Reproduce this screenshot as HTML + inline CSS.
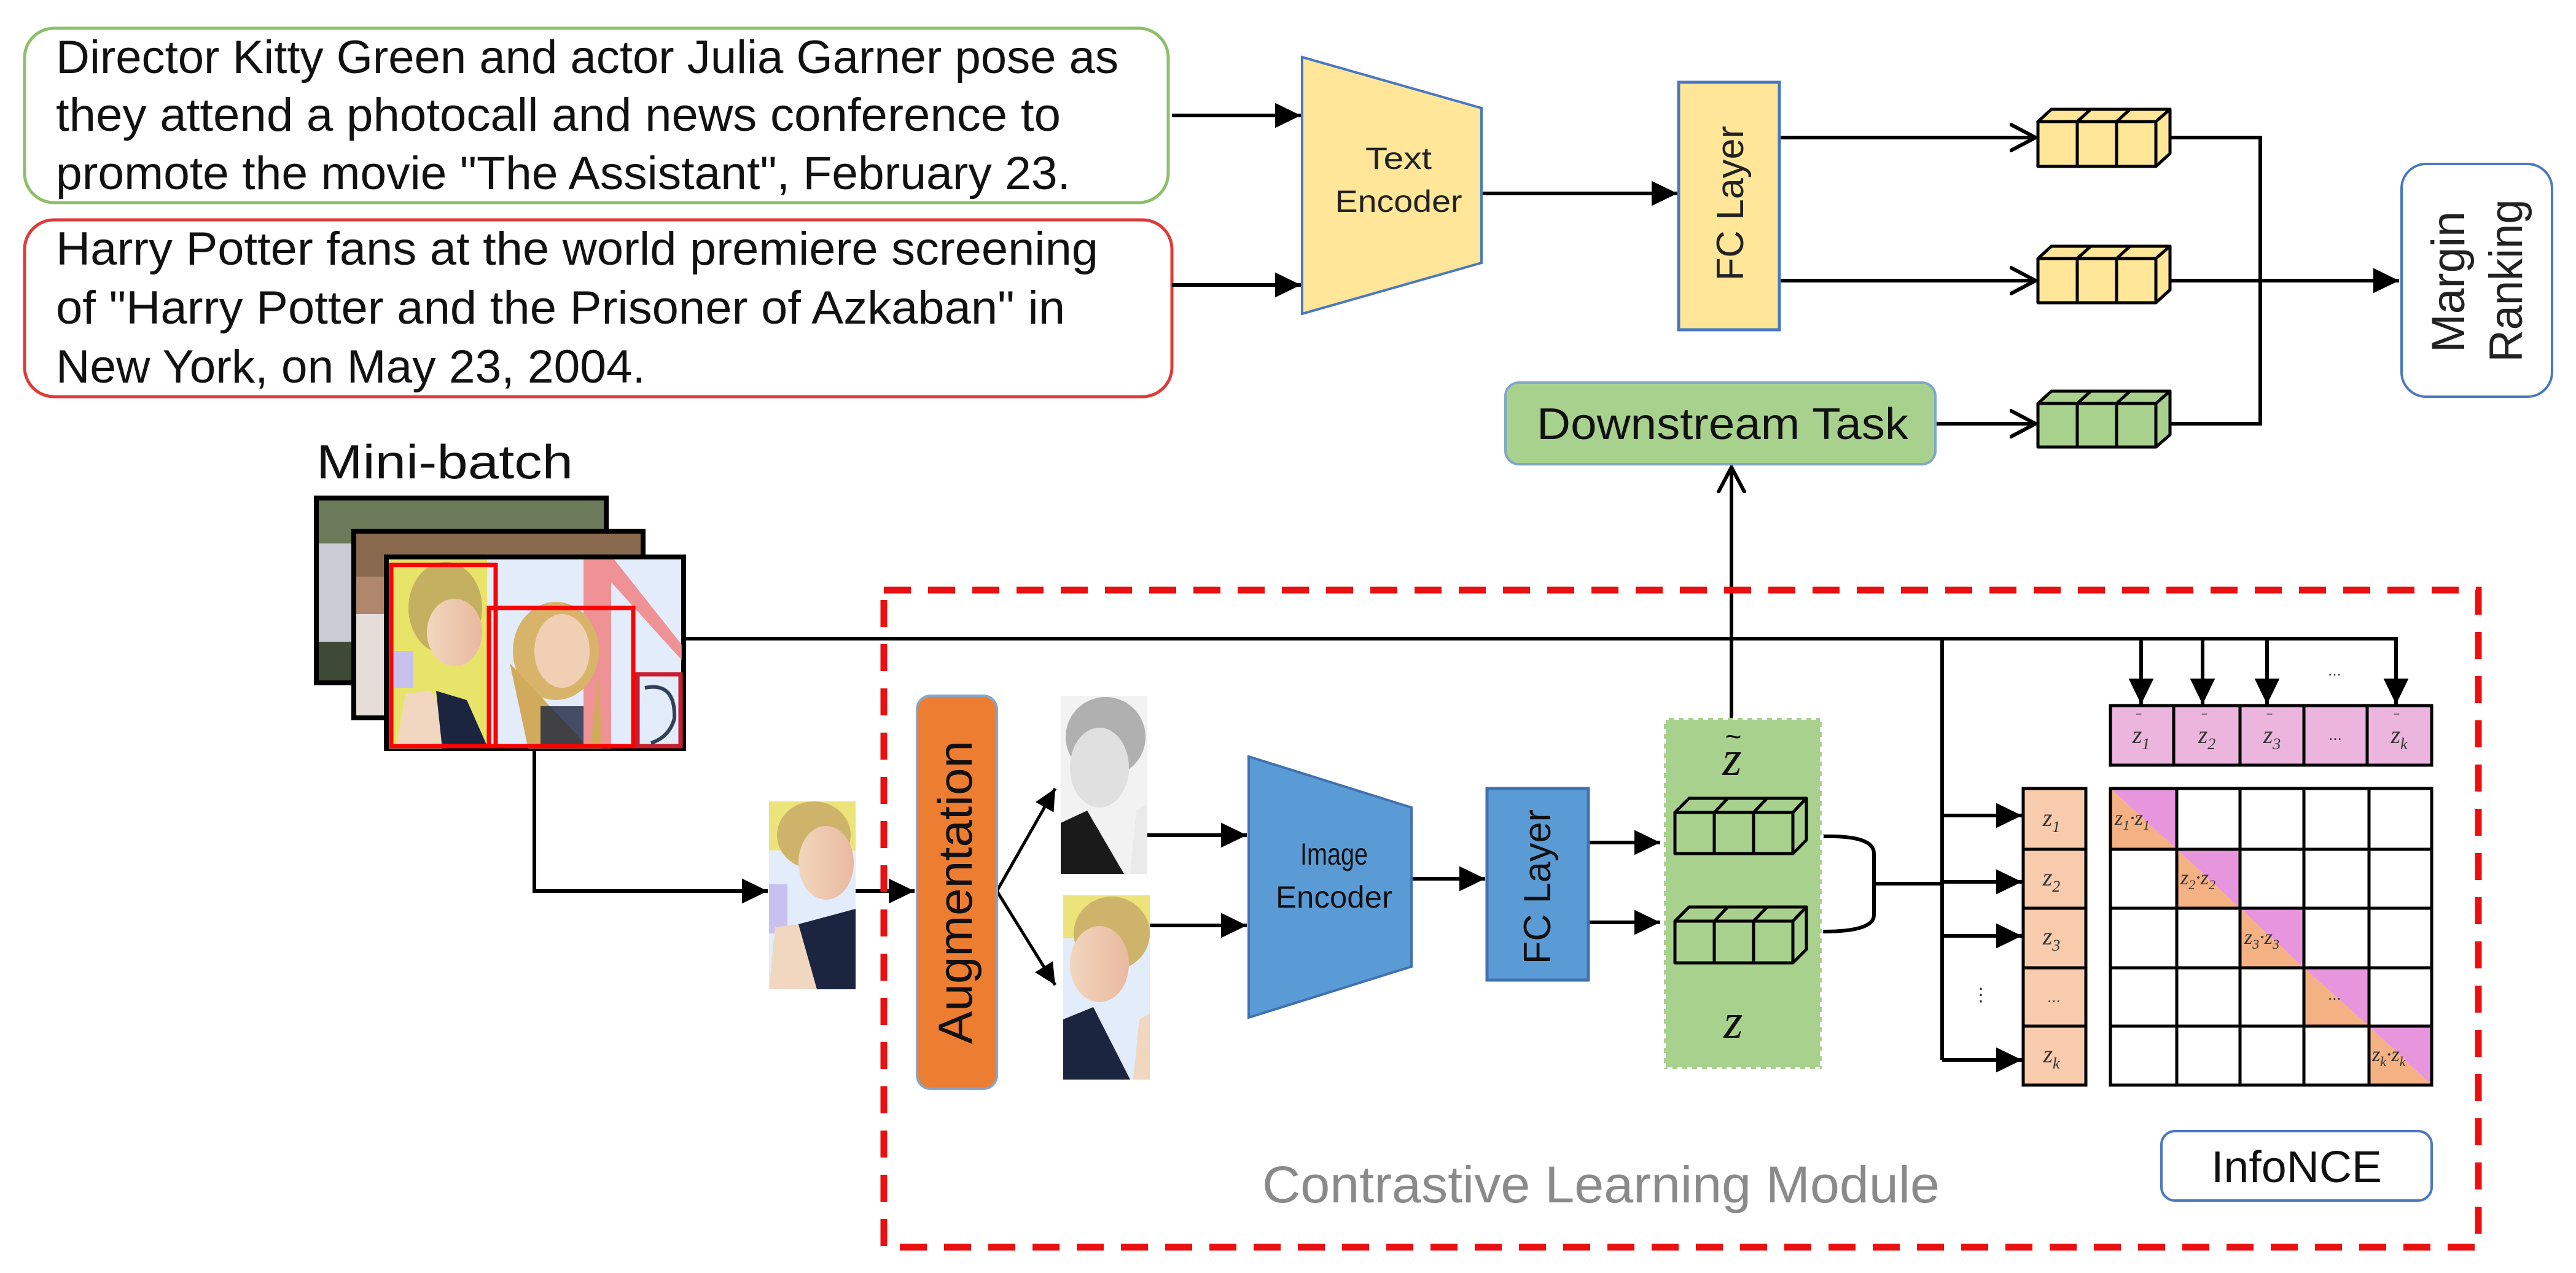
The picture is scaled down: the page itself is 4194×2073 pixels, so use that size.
<!DOCTYPE html>
<html><head><meta charset="utf-8"><style>
html,body{margin:0;padding:0;background:#fff;}
svg{display:block;}
text{font-family:"Liberation Sans",sans-serif;}
.s{font-family:"Liberation Serif",serif;font-style:italic;}
</style></head><body>
<svg width="4194" height="2073" viewBox="0 0 4194 2073" xmlns="http://www.w3.org/2000/svg">
<defs>
<marker id="a" markerWidth="8" markerHeight="8" refX="7" refY="4" orient="auto" markerUnits="strokeWidth"><path d="M0,0.6 L7,4 L0,7.4 Z" fill="#000"/></marker>
<marker id="b" markerWidth="8" markerHeight="8" refX="7" refY="4" orient="auto" markerUnits="strokeWidth"><path d="M0,0.3 L7,4 L0,7.7" fill="none" stroke="#000" stroke-width="1"/></marker>
<linearGradient id="sk" x1="0" y1="0" x2="1" y2="0"><stop offset="0" stop-color="#f2d6bd"/><stop offset="1" stop-color="#e8b9a0"/></linearGradient>
</defs>

<!-- caption boxes -->
<rect x="40" y="46" width="1862" height="284" rx="48" fill="#fff" stroke="#8fbf6a" stroke-width="5"/>
<text x="91" y="119" font-size="76" fill="#111" textLength="1730" lengthAdjust="spacingAndGlyphs">Director Kitty Green and actor Julia Garner pose as</text>
<text x="91" y="213" font-size="76" fill="#111" textLength="1636" lengthAdjust="spacingAndGlyphs">they attend a photocall and news conference to</text>
<text x="91" y="308" font-size="76" fill="#111" textLength="1652" lengthAdjust="spacingAndGlyphs">promote the movie "The Assistant", February 23.</text>

<rect x="40" y="358" width="1868" height="288" rx="48" fill="#fff" stroke="#e03a3a" stroke-width="5"/>
<text x="91" y="431" font-size="76" fill="#111" textLength="1697" lengthAdjust="spacingAndGlyphs">Harry Potter fans at the world premiere screening</text>
<text x="91" y="527" font-size="76" fill="#111" textLength="1643" lengthAdjust="spacingAndGlyphs">of "Harry Potter and the Prisoner of Azkaban" in</text>
<text x="91" y="623" font-size="76" fill="#111" textLength="960" lengthAdjust="spacingAndGlyphs">New York, on May 23, 2004.</text>

<g stroke="#000" stroke-width="6" fill="none">
<line x1="1908" y1="188" x2="2118" y2="188" marker-end="url(#a)"/>
<line x1="1908" y1="464" x2="2118" y2="464" marker-end="url(#a)"/>
<line x1="2412" y1="315" x2="2731" y2="315" marker-end="url(#a)"/>
<line x1="2897" y1="224" x2="3314" y2="224" marker-end="url(#b)"/>
<line x1="2897" y1="457" x2="3314" y2="457" marker-end="url(#b)"/>
<polyline points="3533,224 3680,224 3680,690 3533,690"/>
<line x1="3533" y1="457" x2="3906" y2="457" marker-end="url(#a)"/>
<line x1="3151" y1="690" x2="3314" y2="690" marker-end="url(#b)"/>
<line x1="2819" y1="1169" x2="2819" y2="761" marker-end="url(#b)"/>
</g>

<!-- Text encoder -->
<polygon points="2120,93 2412,176 2412,428 2120,511" fill="#ffe699" stroke="#4a78c0" stroke-width="4"/>
<text x="2277" y="275" font-size="50" text-anchor="middle" fill="#222" textLength="108" lengthAdjust="spacingAndGlyphs">Text</text>
<text x="2277" y="345" font-size="50" text-anchor="middle" fill="#222" textLength="207" lengthAdjust="spacingAndGlyphs">Encoder</text>

<!-- FC layer yellow -->
<rect x="2733" y="134" width="164" height="403" fill="#ffe699" stroke="#4a78c0" stroke-width="5"/>
<text transform="translate(2838,331) rotate(-90)" font-size="62" text-anchor="middle" fill="#222" textLength="252" lengthAdjust="spacingAndGlyphs">FC Layer</text>

<!-- cubes top -->
<g stroke="#000" stroke-width="5" stroke-linejoin="round">
<g fill="#ffe699">
<polygon points="3318,198 3340,178 3533,178 3510,198"/>
<polygon points="3510,198 3533,178 3533,250 3510,271"/>
<rect x="3318" y="198" width="192" height="73"/>
<line x1="3382" y1="198" x2="3382" y2="271"/><line x1="3446" y1="198" x2="3446" y2="271"/>
<line x1="3382" y1="198" x2="3404" y2="178"/><line x1="3446" y1="198" x2="3468" y2="178"/>
</g>
<g fill="#ffe699">
<polygon points="3318,421 3340,401 3533,401 3510,421"/>
<polygon points="3510,421 3533,401 3533,472 3510,493"/>
<rect x="3318" y="421" width="192" height="72"/>
<line x1="3382" y1="421" x2="3382" y2="493"/><line x1="3446" y1="421" x2="3446" y2="493"/>
<line x1="3382" y1="421" x2="3404" y2="401"/><line x1="3446" y1="421" x2="3468" y2="401"/>
</g>
<g fill="#a9d18e">
<polygon points="3318,657 3340,637 3533,637 3510,657"/>
<polygon points="3510,657 3533,637 3533,708 3510,728"/>
<rect x="3318" y="657" width="192" height="71"/>
<line x1="3382" y1="657" x2="3382" y2="728"/><line x1="3446" y1="657" x2="3446" y2="728"/>
<line x1="3382" y1="657" x2="3404" y2="637"/><line x1="3446" y1="657" x2="3468" y2="637"/>
</g>
</g>

<!-- Margin ranking -->
<rect x="3910" y="267" width="245" height="379" rx="40" fill="#fff" stroke="#4a78c0" stroke-width="4"/>
<text transform="translate(4012,459) rotate(-90)" font-size="76" text-anchor="middle" fill="#222" textLength="230" lengthAdjust="spacingAndGlyphs">Margin</text>
<text transform="translate(4106,457) rotate(-90)" font-size="76" text-anchor="middle" fill="#222" textLength="265" lengthAdjust="spacingAndGlyphs">Ranking</text>

<!-- Downstream -->
<rect x="2451" y="623" width="700" height="133" rx="22" fill="#a9d18e" stroke="#7fa8c8" stroke-width="4"/>
<text x="2502" y="715" font-size="72" fill="#111" textLength="605" lengthAdjust="spacingAndGlyphs">Downstream Task</text>

<!-- Mini-batch -->
<text x="515" y="779" font-size="78" fill="#111" textLength="418" lengthAdjust="spacingAndGlyphs">Mini-batch</text>

<!-- frames -->
<rect x="515" y="811" width="472" height="301" fill="#3e4a36" stroke="#000" stroke-width="8"/>
<rect x="519" y="815" width="464" height="70" fill="#6b7a58"/>
<rect x="519" y="885" width="60" height="160" fill="#c9ccd4"/>
<rect x="576" y="865" width="471" height="304" fill="#b0876a" stroke="#000" stroke-width="8"/>
<rect x="580" y="869" width="463" height="70" fill="#8a6a4e"/>
<rect x="580" y="1000" width="45" height="165" fill="#e6dcd8"/>
<rect x="629" y="907" width="484" height="312" fill="#e3ecfb" stroke="#000" stroke-width="8"/>
<rect x="633" y="911" width="160" height="308" fill="#e8e46a"/>
<rect x="633" y="1060" width="40" height="60" fill="#c8c0ee"/>
<polygon points="950,911 1000,911 1110,1050 1110,1075 995,948 995,1219 950,1219" fill="#f07c7c" opacity="0.8"/>
<ellipse cx="725" cy="990" rx="60" ry="75" fill="#c4b060"/>
<ellipse cx="740" cy="1030" rx="45" ry="55" fill="url(#sk)"/>
<polygon points="645,1219 660,1130 700,1125 780,1219" fill="#f1d7c0"/>
<polygon points="710,1125 760,1140 795,1219 720,1219" fill="#1c2540"/>
<ellipse cx="905" cy="1060" rx="70" ry="80" fill="#d8b46a"/>
<ellipse cx="915" cy="1060" rx="45" ry="60" fill="#f0cfb4"/>
<polygon points="830,1080 860,1219 980,1219 975,1100 960,1219" fill="#d2aa5c"/>
<rect x="880" y="1150" width="70" height="65" fill="#1c2540" opacity="0.8"/>
<g fill="none" stroke="#ff0000" stroke-width="7">
<rect x="637" y="920" width="170" height="295"/>
<rect x="796" y="990" width="235" height="225"/>
<rect x="1038" y="1098" width="70" height="117" stroke="#c81e32"/>
</g>
<path d="M1050,1120 Q1100,1110 1098,1170 Q1090,1200 1060,1210" stroke="#30425a" stroke-width="6" fill="none"/>

<!-- main line & connectors -->
<g stroke="#000" stroke-width="6" fill="none">
<line x1="1117" y1="1040" x2="3904" y2="1040"/>
<line x1="3486" y1="1040" x2="3486" y2="1147" marker-end="url(#a)"/>
<line x1="3586" y1="1040" x2="3586" y2="1147" marker-end="url(#a)"/>
<line x1="3691" y1="1040" x2="3691" y2="1147" marker-end="url(#a)"/>
<line x1="3901" y1="1040" x2="3901" y2="1147" marker-end="url(#a)"/>
<polyline points="3162,1040 3162,1726"/>
<line x1="3162" y1="1328" x2="3292" y2="1328" marker-end="url(#a)"/>
<line x1="3162" y1="1436" x2="3292" y2="1436" marker-end="url(#a)"/>
<line x1="3162" y1="1524" x2="3292" y2="1524" marker-end="url(#a)"/>
<line x1="3162" y1="1726" x2="3292" y2="1726" marker-end="url(#a)"/>
<path d="M2968,1362 Q3051,1360 3051,1390 L3051,1490 Q3051,1517 2968,1517"/>
<line x1="3051" y1="1439" x2="3162" y2="1439"/>
<polyline points="870,1223 870,1451 1250,1451" marker-end="url(#a)"/>
<line x1="1393" y1="1451" x2="1489" y2="1451" marker-end="url(#a)"/>
<line x1="1623" y1="1451" x2="1718" y2="1284" stroke-width="5" marker-end="url(#a)"/>
<line x1="1623" y1="1451" x2="1718" y2="1604" stroke-width="5" marker-end="url(#a)"/>
<line x1="1868" y1="1360" x2="2030" y2="1360" marker-end="url(#a)"/>
<line x1="1872" y1="1507" x2="2030" y2="1507" marker-end="url(#a)"/>
<line x1="2298" y1="1431" x2="2418" y2="1431" marker-end="url(#a)"/>
<line x1="2586" y1="1372" x2="2703" y2="1372" marker-end="url(#a)"/>
<line x1="2586" y1="1502" x2="2703" y2="1502" marker-end="url(#a)"/>
</g>
<text x="3225" y="1630" font-size="30" fill="#333" text-anchor="middle">⋮</text>

<!-- crop image -->
<rect x="1252" y="1305" width="141" height="306" fill="#e3ecfb"/>
<rect x="1252" y="1305" width="141" height="80" fill="#ece47a"/>
<ellipse cx="1325" cy="1360" rx="60" ry="55" fill="#cdb46a"/>
<ellipse cx="1345" cy="1405" rx="45" ry="60" fill="url(#sk)"/>
<rect x="1252" y="1440" width="30" height="80" fill="#c8c0ee"/>
<polygon points="1252,1611 1262,1510 1300,1505 1330,1611" fill="#f1d7c0"/>
<polygon points="1300,1505 1393,1480 1393,1611 1330,1611" fill="#1c2540"/>

<!-- Augmentation -->
<rect x="1493" y="1133" width="130" height="640" rx="22" fill="#ed7d31" stroke="#8aa4c4" stroke-width="4"/>
<text transform="translate(1582,1453) rotate(-90)" font-size="78" text-anchor="middle" fill="#111" textLength="494" lengthAdjust="spacingAndGlyphs">Augmentation</text>

<!-- gray image -->
<rect x="1727" y="1133" width="141" height="290" fill="#f2f2f2"/>
<ellipse cx="1800" cy="1200" rx="65" ry="65" fill="#b0b0b0"/>
<ellipse cx="1790" cy="1250" rx="48" ry="65" fill="#e0e0e0"/>
<polygon points="1727,1423 1727,1340 1770,1320 1830,1423" fill="#1a1a1a"/>
<polygon points="1840,1423 1850,1320 1868,1310 1868,1423" fill="#eaeaea"/>
<!-- color image -->
<rect x="1731" y="1458" width="141" height="300" fill="#e3ecfb"/>
<rect x="1731" y="1458" width="141" height="70" fill="#ece47a"/>
<ellipse cx="1810" cy="1520" rx="62" ry="60" fill="#cdb46a"/>
<ellipse cx="1790" cy="1570" rx="48" ry="62" fill="url(#sk)"/>
<polygon points="1731,1758 1731,1660 1780,1640 1840,1758" fill="#1c2540"/>
<polygon points="1845,1758 1855,1660 1872,1650 1872,1758" fill="#f1d7c0"/>

<!-- Image encoder -->
<polygon points="2033,1232 2298,1315 2298,1574 2033,1657" fill="#5b9bd5" stroke="#3f72b0" stroke-width="4"/>
<text x="2172" y="1408" font-size="50" text-anchor="middle" fill="#111" textLength="110" lengthAdjust="spacingAndGlyphs">Image</text>
<text x="2172" y="1478" font-size="50" text-anchor="middle" fill="#111" textLength="190" lengthAdjust="spacingAndGlyphs">Encoder</text>

<!-- FC blue -->
<rect x="2421" y="1284" width="165" height="312" fill="#5b9bd5" stroke="#3f72b0" stroke-width="5"/>
<text transform="translate(2524,1444) rotate(-90)" font-size="62" text-anchor="middle" fill="#111" textLength="252" lengthAdjust="spacingAndGlyphs">FC Layer</text>

<!-- green region -->
<rect x="2709" y="1169" width="257" height="572" fill="#a9d18e" stroke="#fff" stroke-width="6" stroke-dasharray="8 8"/>
<text x="2820" y="1262" class="s" font-size="80" text-anchor="middle" fill="#111">z</text>
<text x="2822" y="1215" font-size="46" text-anchor="middle" fill="#111">~</text>
<text x="2822" y="1690" class="s" font-size="80" text-anchor="middle" fill="#111">z</text>
<g stroke="#000" stroke-width="5" stroke-linejoin="round" fill="#a9d18e">
<polygon points="2727,1323 2750,1300 2941,1300 2919,1323"/>
<polygon points="2919,1323 2941,1300 2941,1368 2919,1390"/>
<rect x="2727" y="1323" width="192" height="67"/>
<line x1="2791" y1="1323" x2="2791" y2="1390"/><line x1="2855" y1="1323" x2="2855" y2="1390"/>
<line x1="2791" y1="1323" x2="2813" y2="1300"/><line x1="2855" y1="1323" x2="2877" y2="1300"/>
<polygon points="2727,1500 2750,1477 2941,1477 2919,1500"/>
<polygon points="2919,1500 2941,1477 2941,1546 2919,1568"/>
<rect x="2727" y="1500" width="192" height="68"/>
<line x1="2791" y1="1500" x2="2791" y2="1568"/><line x1="2855" y1="1500" x2="2855" y2="1568"/>
<line x1="2791" y1="1500" x2="2813" y2="1477"/><line x1="2855" y1="1500" x2="2877" y2="1477"/>
</g>

<!-- z column -->
<g stroke="#000" stroke-width="5" fill="#f8cbad">
<rect x="3294" y="1284" width="102" height="99"/>
<rect x="3294" y="1383" width="102" height="96"/>
<rect x="3294" y="1479" width="102" height="97"/>
<rect x="3294" y="1576" width="102" height="95"/>
<rect x="3294" y="1671" width="102" height="96"/>
</g>
<g class="s" font-size="40" fill="#333" text-anchor="middle">
<text x="3340" y="1345" class="s">z<tspan font-size="26" dy="10">1</tspan></text>
<text x="3340" y="1442" class="s">z<tspan font-size="26" dy="10">2</tspan></text>
<text x="3340" y="1538" class="s">z<tspan font-size="26" dy="10">3</tspan></text>
<text x="3345" y="1632" font-size="26">...</text>
<text x="3340" y="1730" class="s">z<tspan font-size="26" dy="10">k</tspan></text>
</g>

<!-- pink row -->
<g stroke="#000" stroke-width="5" fill="#ebb5dd">
<rect x="3436" y="1149" width="523" height="97"/>
<line x1="3539" y1="1149" x2="3539" y2="1246"/><line x1="3647" y1="1149" x2="3647" y2="1246"/>
<line x1="3751" y1="1149" x2="3751" y2="1246"/><line x1="3854" y1="1149" x2="3854" y2="1246"/>
</g>
<g font-size="40" fill="#333" text-anchor="middle">
<text x="3486" y="1210" class="s">z<tspan font-size="26" dy="10">1</tspan></text>
<text x="3593" y="1210" class="s">z<tspan font-size="26" dy="10">2</tspan></text>
<text x="3699" y="1210" class="s">z<tspan font-size="26" dy="10">3</tspan></text>
<text x="3802" y="1205" font-size="26">...</text>
<text x="3906" y="1210" class="s">z<tspan font-size="26" dy="10">k</tspan></text>
<text x="3482" y="1180" font-size="22">‾</text><text x="3589" y="1180" font-size="22">‾</text>
<text x="3695" y="1180" font-size="22">‾</text><text x="3902" y="1180" font-size="22">‾</text>
</g>
<text x="3801" y="1100" font-size="26" fill="#333" text-anchor="middle">...</text>

<!-- matrix -->
<g>
<polygon points="3436,1284 3544,1383 3436,1383" fill="#f4b183"/>
<polygon points="3436,1284 3544,1284 3544,1383" fill="#e796dd"/>
<polygon points="3544,1383 3647,1479 3544,1479" fill="#f4b183"/>
<polygon points="3544,1383 3647,1383 3647,1479" fill="#e796dd"/>
<polygon points="3647,1479 3751,1576 3647,1576" fill="#f4b183"/>
<polygon points="3647,1479 3751,1479 3751,1576" fill="#e796dd"/>
<polygon points="3751,1576 3857,1671 3751,1671" fill="#f4b183"/>
<polygon points="3751,1576 3857,1576 3857,1671" fill="#e796dd"/>
<polygon points="3857,1671 3959,1767 3857,1767" fill="#f4b183"/>
<polygon points="3857,1671 3959,1671 3959,1767" fill="#e796dd"/>
</g>
<g stroke="#000" stroke-width="5" fill="none">
<rect x="3436" y="1284" width="523" height="483"/>
<line x1="3544" y1="1284" x2="3544" y2="1767"/><line x1="3647" y1="1284" x2="3647" y2="1767"/>
<line x1="3751" y1="1284" x2="3751" y2="1767"/><line x1="3857" y1="1284" x2="3857" y2="1767"/>
<line x1="3436" y1="1383" x2="3959" y2="1383"/><line x1="3436" y1="1479" x2="3959" y2="1479"/>
<line x1="3436" y1="1576" x2="3959" y2="1576"/><line x1="3436" y1="1671" x2="3959" y2="1671"/>
</g>
<g font-size="34" fill="#333">
<text x="3443" y="1343" class="s">z<tspan font-size="22" dy="8">1</tspan><tspan dy="-8">·z</tspan><tspan font-size="22" dy="8">1</tspan></text>
<text x="3550" y="1440" class="s">z<tspan font-size="22" dy="8">2</tspan><tspan dy="-8">·z</tspan><tspan font-size="22" dy="8">2</tspan></text>
<text x="3654" y="1537" class="s">z<tspan font-size="22" dy="8">3</tspan><tspan dy="-8">·z</tspan><tspan font-size="22" dy="8">3</tspan></text>
<text x="3790" y="1628" font-size="26">...</text>
<text x="3862" y="1728" class="s">z<tspan font-size="22" dy="8">k</tspan><tspan dy="-8">·z</tspan><tspan font-size="22" dy="8">k</tspan></text>
</g>

<!-- InfoNCE -->
<rect x="3519" y="1842" width="440" height="113" rx="22" fill="#fff" stroke="#4a78c0" stroke-width="4"/>
<text x="3600" y="1925" font-size="72" fill="#111" textLength="278" lengthAdjust="spacingAndGlyphs">InfoNCE</text>

<text x="2055" y="1958" font-size="84" fill="#8a8a8a" textLength="1103" lengthAdjust="spacingAndGlyphs">Contrastive Learning Module</text>

<!-- dashed box -->
<rect x="1439" y="961" width="2596" height="1070" fill="none" stroke="#e81010" stroke-width="11" stroke-dasharray="44 28"/>
</svg>
</body></html>
